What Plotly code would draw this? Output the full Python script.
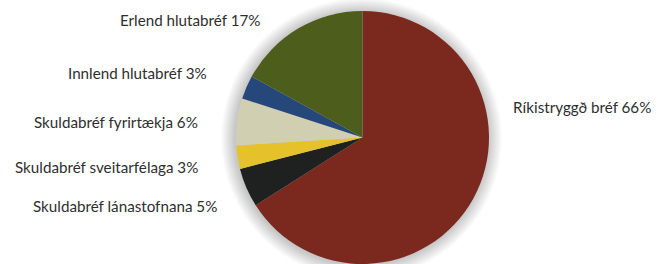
import plotly.graph_objects as go

labels = ["Ríkistryggð bréf", "Skuldabréf lánastofnana", "Skuldabréf sveitarfélaga",
          "Skuldabréf fyrirtækja", "Innlend hlutabréf", "Erlend hlutabréf"]
values = [66, 5, 3, 6, 3, 17]
colors = ["#7B291E", "#1F2120", "#E5C22B", "#D1CFB2", "#26477A", "#4D5D1B"]

W, H = 662, 264
# label anchor positions (pixels from top-left) and alignment
label_pos = [(511, 107, "left"), (219, 206, "right"), (200, 167, "right"),
             (200, 122, "right"), (209, 73, "right"), (262, 20, "right")]

cx, cy, r = 362.5, 137.5, 126.5

fig = go.Figure(go.Pie(
    labels=labels, values=values, sort=False, direction="clockwise", rotation=0,
    marker=dict(colors=colors, line=dict(width=0)),
    textinfo="none", hoverinfo="label+percent", showlegend=False,
    domain=dict(x=[(cx - r) / W, (cx + r) / W], y=[0, 2 * r / H]),
))

# soft drop shadow
shapes = []
for k in range(14, 0, -1):
    rr = r + k
    ox, oy = -1, 1
    shapes.append(dict(type="circle", xref="paper", yref="paper", layer="below",
                       x0=(cx + ox - rr) / W, x1=(cx + ox + rr) / W,
                       y0=1 - (cy + oy + rr) / H, y1=1 - (cy + oy - rr) / H,
                       fillcolor="rgba(0,0,0,0.017)", line=dict(width=0)))

annotations = []
for lab, val, (px, py, al) in zip(labels, values, label_pos):
    annotations.append(dict(text=f"{lab} {val}%", x=px / W, y=1 - py / H,
                            xref="paper", yref="paper", showarrow=False,
                            xanchor=al, yanchor="middle",
                            font=dict(family="Lato", size=15.2, color="#2e2e2e")))

fig.update_layout(width=W, height=H, margin=dict(l=0, r=0, t=0, b=0),
                  paper_bgcolor="white", plot_bgcolor="white",
                  shapes=shapes, annotations=annotations)
fig.write_html("out.html", config={"displayModeBar": False},
               post_script="document.body.style.margin='0';document.body.style.overflow='hidden';")
